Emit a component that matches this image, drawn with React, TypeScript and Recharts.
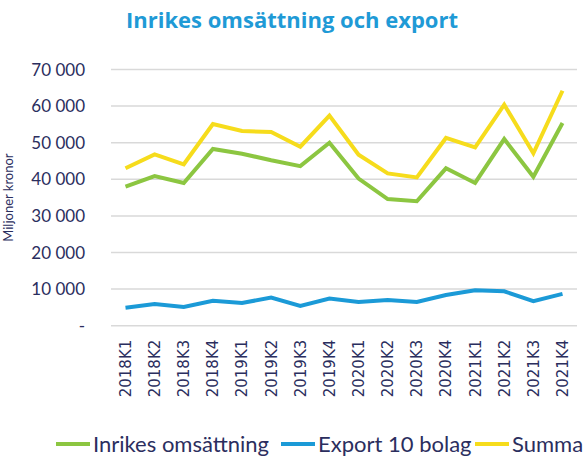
import React from 'react';
import { LineChart, Line, XAxis, YAxis, CartesianGrid, Legend } from 'recharts';

const categories = ['2018K1','2018K2','2018K3','2018K4','2019K1','2019K2','2019K3','2019K4','2020K1','2020K2','2020K3','2020K4','2021K1','2021K2','2021K3','2021K4'];
const inrikes = [38000, 40900, 39000, 48300, 47000, 45200, 43600, 50000, 40200, 34600, 34000, 43000, 39000, 51000, 40700, 55400];
const exportVals = [4900, 5900, 5100, 6800, 6200, 7700, 5400, 7400, 6500, 7000, 6500, 8400, 9700, 9400, 6700, 8700];
const summa = [43000, 46800, 44100, 55100, 53200, 52900, 48900, 57400, 46700, 41600, 40500, 51300, 48700, 60400, 47100, 64200];
const yTicks = [0, 10000, 20000, 30000, 40000, 50000, 60000, 70000];

const seriesNames = ['Inrikes omsättning', 'Export 10 bolag', 'Summa'];
const colors = ['#8cc641', '#1b9ad7', '#f6dc1c'];

const data = categories.map((c, i) => ({ cat: c, inrikes: inrikes[i], export: exportVals[i], summa: summa[i] }));

const navy = '#2b2e5e';

const fmt = (v: number) => (v === 0 ? '-' : v.toLocaleString('en-US').replace(/,/g, ' '));

const XTick = (props: any) => {
  const { x, y, payload } = props;
  return (
    <g transform={`translate(${x},${y})`}>
      <text transform="rotate(-90)" textAnchor="end" dy="0.36em" fill={navy} fontSize={15} fontFamily="DejaVu Sans">
        {payload.value}
      </text>
    </g>
  );
};

const itemWidths = [225, 194, 78];

const LegendContent = () => (
  <div style={{ display: 'flex', alignItems: 'center', fontFamily: 'Lato', fontSize: 22, color: navy, whiteSpace: 'nowrap', lineHeight: '21px', height: 21 }}>
    {seriesNames.map((n, i) => (
      <div key={n} style={{ display: 'flex', alignItems: 'center', width: itemWidths[i], flex: 'none' }}>
        <div style={{ width: 34, height: 4, background: colors[i], marginRight: 3, flex: 'none' }} />
        <span>{n}</span>
      </div>
    ))}
  </div>
);

export default function App() {
  return (
    <div style={{ position: 'absolute', left: 0, top: 0, width: 588, height: 458, background: '#fff', overflow: 'hidden' }}>
      <div style={{ position: 'absolute', top: 4, left: 0, width: 588, textAlign: 'center', fontFamily: 'Open Sans', fontWeight: 700, fontSize: 22, color: '#1f9ad6', whiteSpace: 'nowrap' }}>
        <span style={{ marginLeft: -4 }}>Inrikes omsättning och export</span>
      </div>
      <LineChart width={588} height={458} data={data} margin={{ top: 69.5, right: 11, bottom: 0, left: 0 }}>
        <CartesianGrid vertical={false} stroke="#d9d9d9" strokeWidth={1.5} />
        <XAxis dataKey="cat" height={132.3} axisLine={false} tickLine={false} tickSize={0} tickMargin={14} interval={0} padding={{ left: 14.5, right: 14.5 }} tick={<XTick />} />
        <YAxis width={111} domain={[0, 70000]} ticks={yTicks} tickFormatter={fmt} axisLine={false} tickLine={false} tickSize={0} tickMargin={26}
          tick={{ fill: navy, fontSize: 17, fontFamily: 'Lato' }}
          label={{ value: 'Miljoner kronor', angle: -90, position: 'insideLeft', offset: 8, style: { fill: navy, fontSize: 13, fontFamily: 'Lato', textAnchor: 'middle' } }} />
        <Line type="linear" dataKey="inrikes" name={seriesNames[0]} stroke={colors[0]} strokeWidth={4} dot={false} isAnimationActive={false} />
        <Line type="linear" dataKey="export" name={seriesNames[1]} stroke={colors[1]} strokeWidth={4} dot={false} isAnimationActive={false} />
        <Line type="linear" dataKey="summa" name={seriesNames[2]} stroke={colors[2]} strokeWidth={4} dot={false} isAnimationActive={false} />
        <Legend layout="horizontal" verticalAlign="middle" align="center" content={<LegendContent />} wrapperStyle={{ top: 433, left: 56, width: 532 }} />
      </LineChart>
    </div>
  );
}
